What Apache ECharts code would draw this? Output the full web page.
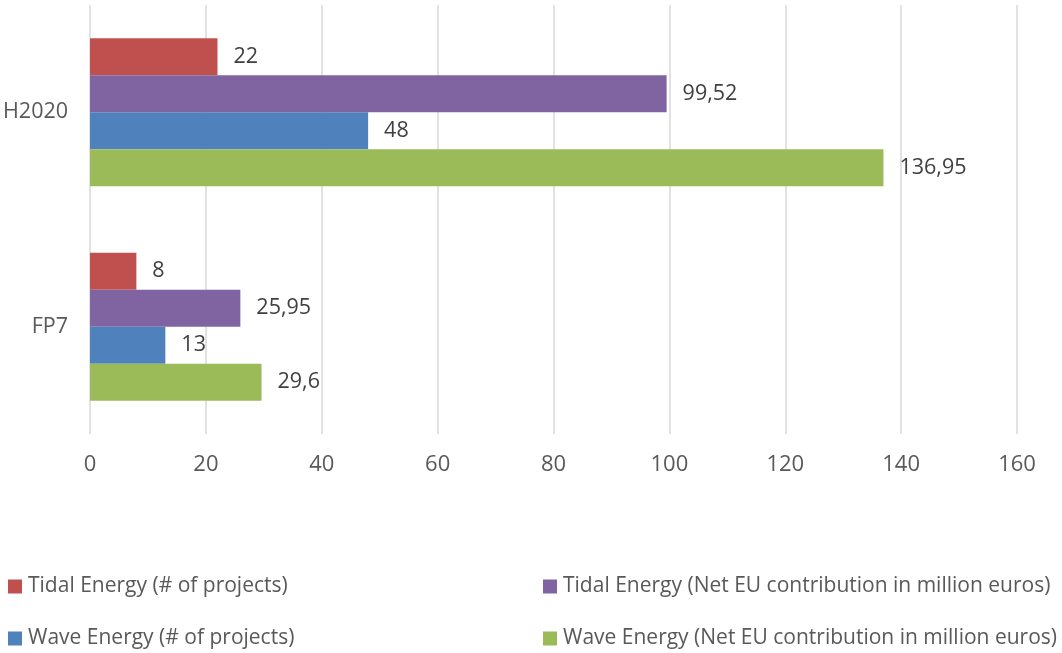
<!DOCTYPE html>
<html>
<head>
<meta charset="utf-8">
<script src="https://cdn.jsdelivr.net/npm/echarts@6/dist/echarts.min.js"></script>
<style>html,body{margin:0;padding:0;background:#fff}#c{width:1062px;height:653px}</style>
</head>
<body>
<div id="c"></div>
<script>
const categories = ['FP7', 'H2020'];
const tidalProjects = [8, 22];
const tidalEU = [25.95, 99.52];
const waveProjects = [13, 48];
const waveEU = [29.6, 136.95];
const xTicks = [0, 20, 40, 60, 80, 100, 120, 140, 160];

const names = [
  'Tidal Energy (# of projects)',
  'Tidal Energy (Net EU contribution in million euros)',
  'Wave Energy (# of projects)',
  'Wave Energy (Net EU contribution in million euros)'
];
const colors = ['#C0504D', '#8064A2', '#4F81BD', '#9BBB59'];
const values = [tidalProjects, tidalEU, waveProjects, waveEU];
const FONT = 'Open Sans';

const series = names.map((n, i) => ({
  name: n,
  type: 'bar',
  data: values[i],
  barGap: '0%',
  barCategoryGap: '31%',
  itemStyle: { color: colors[i] },
  label: {
    show: true,
    position: 'right',
    distance: 16,
    color: '#404040',
    fontFamily: FONT,
    fontSize: 21.5,
    formatter: p => String(p.value).replace('.', ',')
  }
}));

const legendPos = [
  { left: 3, top: 571 },
  { left: 538, top: 571 },
  { left: 3, top: 623 },
  { left: 538, top: 623 }
];
const legends = names.map((n, i) => ({
  data: [n],
  left: legendPos[i].left,
  top: legendPos[i].top,
  itemWidth: 14,
  itemHeight: 14,
  itemGap: 6,
  icon: 'rect',
  textStyle: { color: '#595959', fontFamily: FONT, fontSize: 21, padding: [0, 0, 0, 1] }
}));

const chart = echarts.init(document.getElementById('c'));
chart.setOption({
  animation: false,
  grid: { left: 90, right: 45, top: 5, bottom: 219, containLabel: false },
  legend: legends,
  xAxis: {
    type: 'value',
    min: xTicks[0],
    max: xTicks[xTicks.length - 1],
    interval: 20,
    axisLine: { show: false },
    axisTick: { show: false },
    splitLine: { lineStyle: { color: '#d9d9d9', width: 1.5 } },
    axisLabel: { color: '#595959', fontFamily: FONT, fontSize: 22, margin: 20 }
  },
  yAxis: {
    type: 'category',
    data: categories,
    axisLine: { show: false },
    axisTick: { show: false },
    axisLabel: { color: '#595959', fontFamily: FONT, fontSize: 21.5, margin: 22 }
  },
  series: series
});
</script>
</body>
</html>
